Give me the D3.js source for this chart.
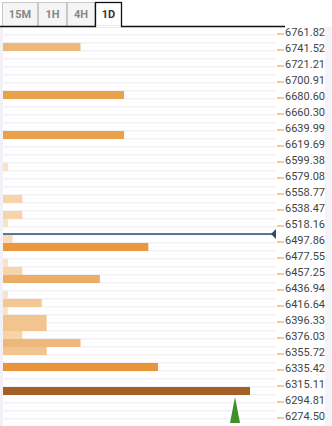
<!DOCTYPE html>
<html>
<head>
<meta charset="utf-8">
<script src="https://cdn.jsdelivr.net/npm/d3@7"></script>
<style>
  body { margin: 0; background: #fff; }
  svg { display: block; font-family: Roboto, sans-serif; }
</style>
</head>
<body>
<div id="chart"></div>
<script>
// tick labels on the right
const priceTicks = [6761.82, 6741.52, 6721.21, 6700.91, 6680.60, 6660.30, 6639.99, 6619.69,
  6599.38, 6579.08, 6558.77, 6538.47, 6518.16, 6497.86, 6477.55, 6457.25, 6436.94, 6416.64,
  6396.33, 6376.03, 6355.72, 6335.42, 6315.11, 6294.81, 6274.50]

// confluence levels (top of row) and their strength
const levels = [6751.67, 6690.75, 6639.99, 6599.38, 6558.77, 6538.47, 6528.31, 6508.01,
  6497.86, 6477.55, 6467.40, 6457.25, 6436.94, 6426.79, 6416.64, 6406.48, 6396.33, 6386.18,
  6376.03, 6365.87, 6345.57, 6315.11]
const strength = [16, 25, 25, 1, 4, 4, 1, 2, 30, 1, 4, 20, 1, 8, 1, 9, 9, 4, 16, 9, 32, 51]

const rowStep = 10.1525
const currentPrice = 6508.0
const timeframes = ["15M", "1H", "4H", "1D"]
const activeFrame = "1D"

const width = 332
const height = 426

const svg = d3.select("#chart").append("svg")
  .attr("width", width)
  .attr("height", height)

const y = d3.scaleLinear()
  .domain([6761.82, 6274.50])
  .range([34, 418])

const x = d3.scaleLinear()
  .domain([0, 51])
  .range([3, 250])

const plotRight = 276

const color = v => v >= 40 ? "#a36125"
  : d3.scaleLinear().domain([1, 4, 9, 16, 25, 32])
      .range(["#fbe1c5", "#f6d3a9", "#f2c48e", "#eeb87a", "#eaa14c", "#e8953a"])(v)

// right background strip and left strip
svg.append("rect").attr("x", 325).attr("y", 27).attr("width", 7).attr("height", height - 27).attr("fill", "#f4f4f8")
svg.append("rect").attr("x", 0).attr("y", 27).attr("width", 3).attr("height", height - 27).attr("fill", "#f1f1f7")

// row stripes
const rows = d3.range(-1, 49)
svg.append("g").selectAll("rect")
  .data(rows)
  .join("rect")
    .attr("x", 3)
    .attr("y", i => y(6761.82 - i * rowStep))
    .attr("width", plotRight - 3)
    .attr("height", 1.4)
    .attr("fill", "#f0f0f6")

// bars
svg.append("g").selectAll("rect")
  .data(levels)
  .join("rect")
    .attr("x", x(0))
    .attr("y", d => y(d) + 1)
    .attr("width", (d, i) => x(strength[i]) - x(0))
    .attr("height", d => y(d - rowStep) - y(d))
    .attr("fill", (d, i) => color(strength[i]))

// current price line
const cy = Math.round(y(currentPrice))
svg.append("line")
  .attr("x1", 3).attr("x2", plotRight - 3)
  .attr("y1", cy).attr("y2", cy)
  .attr("stroke", "#2d4a6b").attr("stroke-width", 1.3)
svg.append("path")
  .attr("d", `M${plotRight - 5},${cy} L${plotRight},${cy - 5} L${plotRight},${cy + 5} Z`)
  .attr("fill", "#2d4a6b")

// trend marker
svg.append("path")
  .attr("d", "M235,397 L240,423 L230,423 Z")
  .attr("fill", "#3f8f2a")

// axis ticks and labels
const axis = svg.append("g")
axis.selectAll("line")
  .data(priceTicks)
  .join("line")
    .attr("x1", 277).attr("x2", 284)
    .attr("y1", d => y(d)).attr("y2", d => y(d))
    .attr("stroke", "#e8953a").attr("stroke-width", 1)
axis.selectAll("text")
  .data(priceTicks)
  .join("text")
    .attr("x", 285)
    .attr("y", d => y(d) + 2)
    .attr("font-size", 11)
    .attr("fill", "#444")
    .text(d => d.toFixed(2))

// tabs
const tabs = [{x: 2, w: 35}, {x: 38, w: 28}, {x: 67, w: 27}, {x: 95, w: 26}]
const tabG = svg.append("g")
timeframes.forEach((t, i) => {
  const tb = tabs[i]
  const active = t === activeFrame
  tabG.append("rect")
    .attr("x", tb.x + 0.5).attr("y", 2.5)
    .attr("width", tb.w).attr("height", 24)
    .attr("fill", active ? "#fff" : "#f5f5f5")
    .attr("stroke", active ? "#111" : "#c8c8c8")
    .attr("stroke-width", active ? 1.3 : 1)
  tabG.append("text")
    .attr("x", tb.x + tb.w / 2 + 0.5).attr("y", 18)
    .attr("text-anchor", "middle")
    .attr("font-size", 11)
    .attr("font-weight", 700)
    .attr("fill", active ? "#333" : "#888")
    .text(t)
})
// baseline under the tabs, open under the active one
svg.append("line").attr("x1", 0).attr("x2", 95.5).attr("y1", 26.5).attr("y2", 26.5).attr("stroke", "#111").attr("stroke-width", 1.3)
svg.append("line").attr("x1", 121.5).attr("x2", 285).attr("y1", 26.5).attr("y2", 26.5).attr("stroke", "#111").attr("stroke-width", 1.3)
svg.append("rect").attr("x", 96.2).attr("y", 25.5).attr("width", 24.6).attr("height", 2).attr("fill", "#fff")
</script>
</body>
</html>
